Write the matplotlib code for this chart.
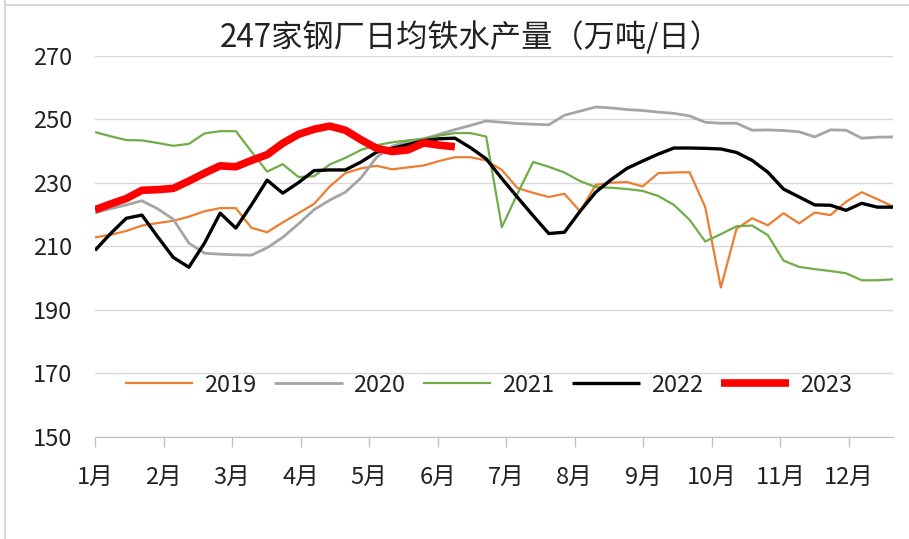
import numpy as np
import matplotlib
matplotlib.use('Agg')
import matplotlib.pyplot as plt
from matplotlib.lines import Line2D

plt.rcParams['font.family'] = ['Noto Sans CJK SC', 'DejaVu Sans']
plt.rcParams['text.color'] = '#222222'
plt.rcParams['xtick.labelcolor'] = '#222222'
plt.rcParams['ytick.labelcolor'] = '#222222'

# -----------------------------------------------------------------------------
# Datos (semanal, 万吨/日)
# -----------------------------------------------------------------------------
months = ['1月', '2月', '3月', '4月', '5月', '6月',
          '7月', '8月', '9月', '10月', '11月', '12月']
years = ['2019', '2020', '2021', '2022', '2023']

y2019 = [212.8, 213.6, 214.8, 216.5, 217.3, 218.0, 219.3, 221.0, 222.0, 222.0,
         215.8, 214.4, 217.5, 220.4, 223.3, 228.8, 233.0, 234.5, 235.3, 234.2,
         234.8, 235.4, 236.8, 238.0, 238.0, 237.0, 234.0, 228.3, 226.8, 225.5,
         226.5, 221.0, 229.3, 230.0, 230.2, 228.8, 233.0, 233.2, 233.3, 222.3,
         197.0, 215.5, 218.8, 216.6, 220.4, 217.2, 220.6, 219.8, 224.0, 227.0,
         224.8, 222.5]
y2020 = [220.5, 221.8, 223.0, 224.3, 221.8, 218.5, 211.0, 207.8, 207.5, 207.3,
         207.2, 209.5, 212.8, 217.0, 221.5, 224.5, 227.0, 231.5, 238.0, 241.5,
         243.0, 243.8, 245.2, 246.7, 248.0, 249.4, 249.0, 248.6, 248.4, 248.2,
         251.2, 252.5, 253.8, 253.5, 253.0, 252.7, 252.2, 251.8, 251.0, 249.0,
         248.7, 248.7, 246.5, 246.6, 246.4, 246.0, 244.4, 246.6, 246.5, 244.0,
         244.3, 244.4]
y2021 = [245.9, 244.6, 243.4, 243.3, 242.5, 241.6, 242.2, 245.5, 246.2, 246.2,
         239.8, 233.5, 235.8, 231.8, 232.0, 235.7, 237.8, 240.3, 241.8, 242.7,
         243.3, 243.8, 244.8, 245.6, 245.6, 244.5, 216.0, 226.5, 236.5, 235.0,
         233.2, 230.5, 228.6, 228.4, 228.0, 227.4, 225.8, 223.0, 218.3, 211.5,
         213.8, 216.3, 216.5, 213.5, 205.5, 203.5, 202.8, 202.2, 201.5, 199.3,
         199.3, 199.6]
y2022 = [208.7, 214.0, 218.8, 219.8, 213.0, 206.5, 203.4, 211.0, 220.4, 215.7,
         223.0, 230.8, 226.7, 230.0, 233.8, 234.0, 234.0, 236.5, 239.6, 240.8,
         242.0, 243.2, 243.8, 244.0, 241.0, 237.5, 231.3, 225.4, 219.6, 214.0,
         214.4, 221.0, 227.0, 231.0, 234.5, 236.8, 239.0, 240.9, 240.9, 240.8,
         240.6, 239.5, 237.0, 233.3, 228.0, 225.5, 223.0, 222.9, 221.3, 223.5,
         222.3, 222.3]
y2023 = [221.5, 223.3, 225.0, 227.6, 227.8, 228.2, 230.5, 233.0, 235.3, 235.0,
         237.0, 238.8, 242.4, 245.2, 246.8, 247.8, 246.5, 243.5, 240.8, 239.8,
         240.3, 242.5, 241.8, 241.3]

series = [y2019, y2020, y2021, y2022, y2023]
colors = ['#ED7D31', '#A5A5A5', '#70AD47', '#000000', '#FF0000']
widths = [1.6, 2.0, 1.6, 2.4, 5.5]

# -----------------------------------------------------------------------------
# Figura
# -----------------------------------------------------------------------------
fig = plt.figure(figsize=(9.09, 5.39), dpi=100)
ax = fig.add_axes([0.1045, 0.1893, 0.8779, 0.7077])

for name, vals, c, lw in zip(years, series, colors, widths):
    ax.plot(np.arange(len(vals)), vals, color=c, linewidth=lw, label=name,
            solid_capstyle='butt', solid_joinstyle='round', zorder=3)

ax.set_ylim(150, 270)
ax.set_yticks(np.arange(150, 271, 20))
ax.set_xlim(0, len(y2019) - 1)
month_pos = np.arange(12) * 4.38
ax.set_xticks(month_pos)
ax.set_xticklabels(months, fontsize=17)
ax.tick_params(axis='x', length=7, width=1, color='#BFBFBF', pad=14)
ax.tick_params(axis='y', length=0, labelsize=17, pad=16.5)
ax.grid(True, axis='y', color='#D9D9D9', linewidth=1)
ax.set_axisbelow(True)
for s in ['top', 'right', 'left']:
    ax.spines[s].set_visible(False)
ax.spines['bottom'].set_color('#BFBFBF')
ax.spines['bottom'].set_zorder(1)

ax.legend(loc='center', bbox_to_anchor=(0.493, 0.136), ncol=5, frameon=False,
          fontsize=17, handlelength=2.9, handletextpad=0.45, columnspacing=0.75)

fig.text(471 / 909, 1 - 38 / 539, '247家钢厂日均铁水产量（万吨/日）',
         ha='center', va='center', fontsize=22.5)

# marco recortado del grafico original
fig.add_artist(Line2D([5 / 909, 5 / 909], [0, 1], color='#D0D0D0', linewidth=1.2))
fig.add_artist(Line2D([5 / 909, 1], [1 - 5 / 539, 1 - 5 / 539],
                      color='#D0D0D0', linewidth=1.2))

fig.savefig('out.png', dpi=100)
